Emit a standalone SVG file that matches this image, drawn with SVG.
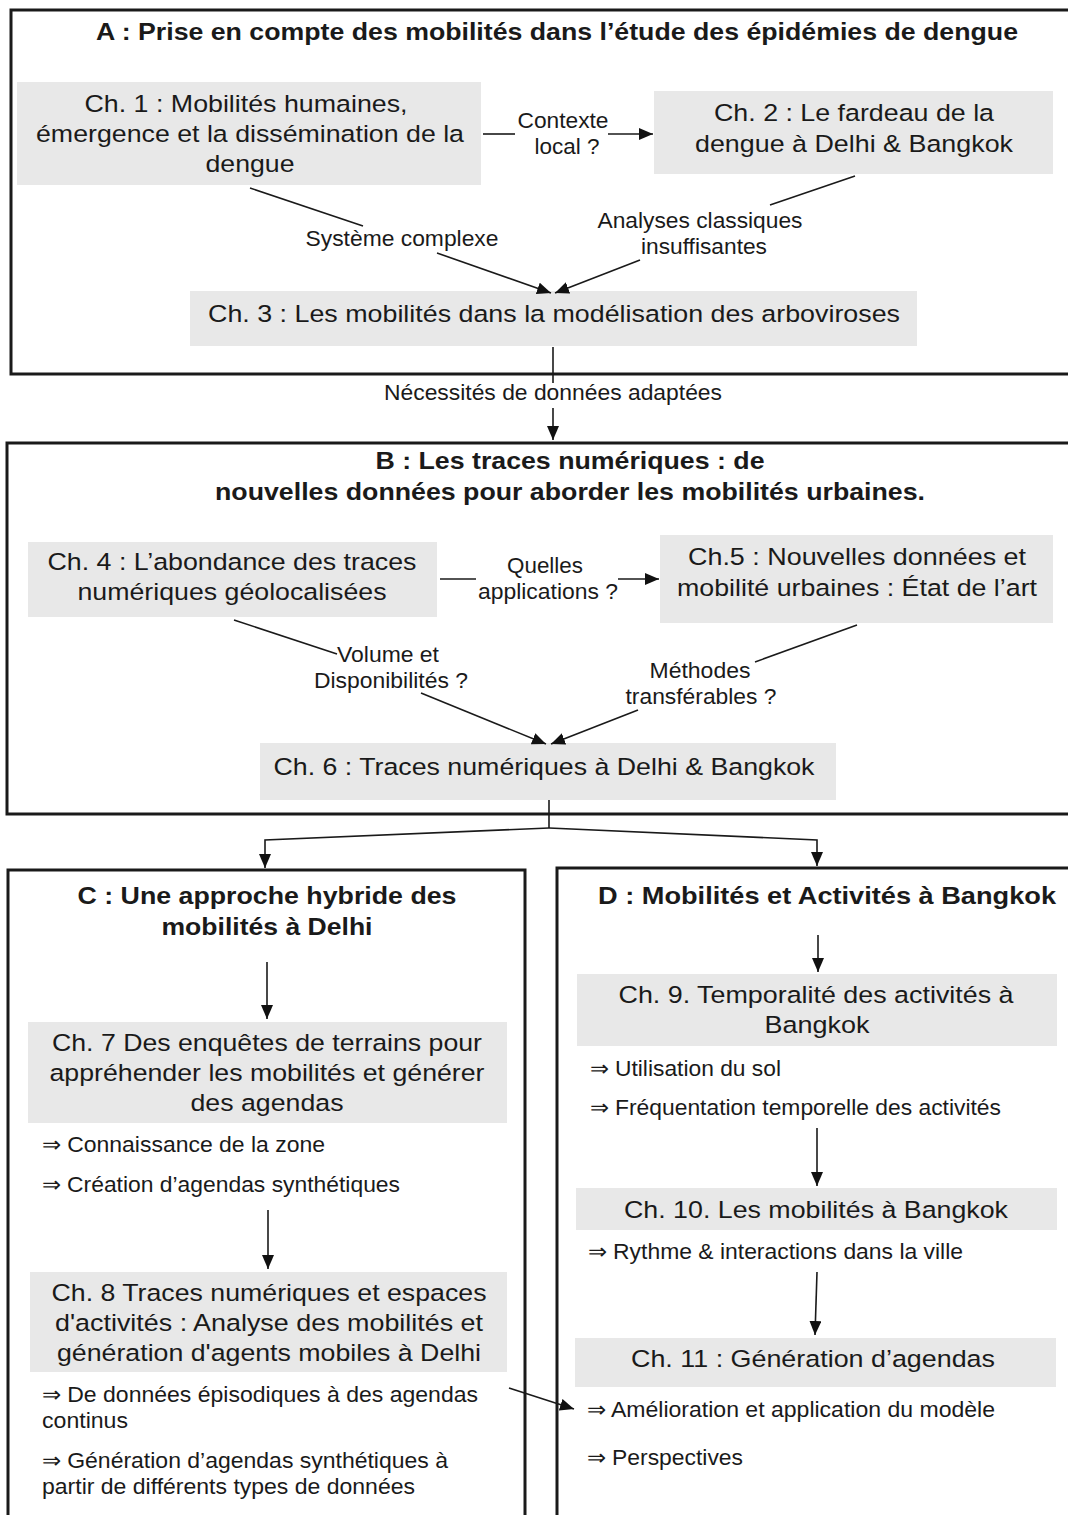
<svg xmlns="http://www.w3.org/2000/svg" width="1068" height="1515" viewBox="0 0 1068 1515">
<style>
text{font-family:"Liberation Sans",Arial,sans-serif;fill:#1a1a1a}
.t{font-size:24.5px;font-weight:bold;text-anchor:middle}
.n{font-size:24.5px;text-anchor:middle}
.l{font-size:22px;text-anchor:middle}
.b{font-size:22px}
.sec{fill:none;stroke:#1a1a1a;stroke-width:3}
.box{fill:#e8e8e8}
.c{fill:none;stroke:#1a1a1a;stroke-width:1.6}
</style>
<defs>
<marker id="ah" viewBox="0 0 14 12" refX="14" refY="6" markerWidth="14" markerHeight="12" markerUnits="userSpaceOnUse" orient="auto">
<path d="M0,0 L14,6 L0,12 z" fill="#111"/>
</marker>
</defs>
<rect width="1068" height="1515" fill="#fff"/>

<g id="sectionA">
<rect class="sec" x="11" y="10" width="1070" height="364"/>
<text class="t" x="557" y="40" textLength="922" lengthAdjust="spacingAndGlyphs">A : Prise en compte des mobilités dans l’étude des épidémies de dengue</text>
</g>
<g id="ch1">
<rect class="box" x="17" y="82" width="464" height="103"/>
<text class="n" x="246" y="112" textLength="323" lengthAdjust="spacingAndGlyphs">Ch. 1 : Mobilités humaines,</text>
<text class="n" x="250" y="142" textLength="428" lengthAdjust="spacingAndGlyphs">émergence et la dissémination de la</text>
<text class="n" x="250" y="172" textLength="89" lengthAdjust="spacingAndGlyphs">dengue</text>
</g>
<g id="ch2">
<rect class="box" x="654" y="91" width="399" height="83"/>
<text class="n" x="854" y="121" textLength="280" lengthAdjust="spacingAndGlyphs">Ch. 2 : Le fardeau de la</text>
<text class="n" x="854" y="152" textLength="318" lengthAdjust="spacingAndGlyphs">dengue à Delhi &amp; Bangkok</text>
</g>
<g id="ch3">
<rect class="box" x="190" y="291" width="727" height="55"/>
<text class="n" x="554" y="322" textLength="692" lengthAdjust="spacingAndGlyphs">Ch. 3 : Les mobilités dans la modélisation des arboviroses</text>
</g>

<g id="sectionB">
<rect class="sec" x="7" y="443" width="1070" height="371"/>
<text class="t" x="570" y="469" textLength="389" lengthAdjust="spacingAndGlyphs">B : Les traces numériques : de</text>
<text class="t" x="570" y="500" textLength="710" lengthAdjust="spacingAndGlyphs">nouvelles données pour aborder les mobilités urbaines.</text>
</g>
<g id="ch4">
<rect class="box" x="28" y="542" width="409" height="75"/>
<text class="n" x="232" y="570" textLength="369" lengthAdjust="spacingAndGlyphs">Ch. 4 : L’abondance des traces</text>
<text class="n" x="232" y="600" textLength="309" lengthAdjust="spacingAndGlyphs">numériques géolocalisées</text>
</g>
<g id="ch5">
<rect class="box" x="660" y="535" width="393" height="88"/>
<text class="n" x="857" y="565" textLength="338" lengthAdjust="spacingAndGlyphs">Ch.5 : Nouvelles données et</text>
<text class="n" x="857" y="596" textLength="360" lengthAdjust="spacingAndGlyphs">mobilité urbaines : État de l’art</text>
</g>
<g id="ch6">
<rect class="box" x="260" y="743" width="576" height="57"/>
<text class="n" x="544" y="775" textLength="541" lengthAdjust="spacingAndGlyphs">Ch. 6 : Traces numériques à Delhi &amp; Bangkok</text>
</g>

<g id="sectionC">
<rect class="sec" x="8" y="870" width="517" height="660"/>
<text class="t" x="267" y="904" textLength="379" lengthAdjust="spacingAndGlyphs">C : Une approche hybride des</text>
<text class="t" x="267" y="935" textLength="211" lengthAdjust="spacingAndGlyphs">mobilités à Delhi</text>
</g>
<g id="ch7">
<rect class="box" x="28" y="1022" width="479" height="101"/>
<text class="n" x="267" y="1051" textLength="430" lengthAdjust="spacingAndGlyphs">Ch. 7 Des enquêtes de terrains pour</text>
<text class="n" x="267" y="1081" textLength="435" lengthAdjust="spacingAndGlyphs">appréhender les mobilités et générer</text>
<text class="n" x="267" y="1111" textLength="153" lengthAdjust="spacingAndGlyphs">des agendas</text>
<text class="b" x="42" y="1152" textLength="283" lengthAdjust="spacingAndGlyphs">⇒ Connaissance de la zone</text>
<text class="b" x="42" y="1192" textLength="358" lengthAdjust="spacingAndGlyphs">⇒ Création d’agendas synthétiques</text>
</g>
<g id="ch8">
<rect class="box" x="30" y="1272" width="477" height="100"/>
<text class="n" x="269" y="1301" textLength="435" lengthAdjust="spacingAndGlyphs">Ch. 8 Traces numériques et espaces</text>
<text class="n" x="269" y="1331" textLength="428" lengthAdjust="spacingAndGlyphs">d'activités : Analyse des mobilités et</text>
<text class="n" x="269" y="1361" textLength="424" lengthAdjust="spacingAndGlyphs">génération d'agents mobiles à Delhi</text>
<text class="b" x="42" y="1402" textLength="436" lengthAdjust="spacingAndGlyphs">⇒ De données épisodiques à des agendas</text>
<text class="b" x="42" y="1428" textLength="86" lengthAdjust="spacingAndGlyphs">continus</text>
<text class="b" x="42" y="1468" textLength="406" lengthAdjust="spacingAndGlyphs">⇒ Génération d’agendas synthétiques à</text>
<text class="b" x="42" y="1494" textLength="373" lengthAdjust="spacingAndGlyphs">partir de différents types de données</text>
</g>

<g id="sectionD">
<rect class="sec" x="557" y="868" width="520" height="660"/>
<text class="t" x="827" y="904" textLength="458" lengthAdjust="spacingAndGlyphs">D :  Mobilités et Activités à Bangkok</text>
</g>
<g id="ch9">
<rect class="box" x="577" y="974" width="480" height="72"/>
<text class="n" x="816" y="1003" textLength="395" lengthAdjust="spacingAndGlyphs">Ch. 9. Temporalité des activités à</text>
<text class="n" x="817" y="1033" textLength="105" lengthAdjust="spacingAndGlyphs">Bangkok</text>
<text class="b" x="590" y="1076" textLength="191" lengthAdjust="spacingAndGlyphs">⇒ Utilisation du sol</text>
<text class="b" x="590" y="1115" textLength="411" lengthAdjust="spacingAndGlyphs">⇒ Fréquentation temporelle des activités</text>
</g>
<g id="ch10">
<rect class="box" x="576" y="1188" width="481" height="42"/>
<text class="n" x="816" y="1218" textLength="384" lengthAdjust="spacingAndGlyphs">Ch. 10. Les mobilités à Bangkok</text>
<text class="b" x="588" y="1259" textLength="375" lengthAdjust="spacingAndGlyphs">⇒ Rythme &amp; interactions dans la ville</text>
</g>
<g id="ch11">
<rect class="box" x="575" y="1338" width="481" height="49"/>
<text class="n" x="813" y="1367" textLength="364" lengthAdjust="spacingAndGlyphs">Ch. 11 : Génération d’agendas</text>
<text class="b" x="587" y="1417" textLength="408" lengthAdjust="spacingAndGlyphs">⇒ Amélioration et application du modèle</text>
<text class="b" x="587" y="1465" textLength="156" lengthAdjust="spacingAndGlyphs">⇒ Perspectives</text>
</g>

<g id="connectors">
<path class="c" d="M483,134 H515"/>
<path class="c" d="M608,134 H653" marker-end="url(#ah)"/>
<text class="l" x="563" y="128" textLength="91" lengthAdjust="spacingAndGlyphs">Contexte</text>
<text class="l" x="567" y="154" textLength="65" lengthAdjust="spacingAndGlyphs">local ?</text>

<path class="c" d="M250,188 L363,226"/>
<text class="l" x="402" y="246" textLength="193" lengthAdjust="spacingAndGlyphs">Système complexe</text>
<path class="c" d="M437,253 L551,293" marker-end="url(#ah)"/>
<path class="c" d="M855,176 L770,205"/>
<text class="l" x="700" y="228" textLength="205" lengthAdjust="spacingAndGlyphs">Analyses classiques</text>
<text class="l" x="704" y="254" textLength="126" lengthAdjust="spacingAndGlyphs">insuffisantes</text>
<path class="c" d="M640,260 L555,293" marker-end="url(#ah)"/>

<path class="c" d="M553,347 V383"/>
<text class="l" x="553" y="400" textLength="338" lengthAdjust="spacingAndGlyphs">Nécessités de données adaptées</text>
<path class="c" d="M553,408 V440" marker-end="url(#ah)"/>

<path class="c" d="M440,579 H476"/>
<path class="c" d="M618,579 H659" marker-end="url(#ah)"/>
<text class="l" x="545" y="573" textLength="76" lengthAdjust="spacingAndGlyphs">Quelles</text>
<text class="l" x="548" y="599" textLength="140" lengthAdjust="spacingAndGlyphs">applications ?</text>

<path class="c" d="M234,620 L337,654"/>
<text class="l" x="388" y="662" textLength="102" lengthAdjust="spacingAndGlyphs">Volume et</text>
<text class="l" x="391" y="688" textLength="154" lengthAdjust="spacingAndGlyphs">Disponibilités ?</text>
<path class="c" d="M421,693 L546,744" marker-end="url(#ah)"/>
<path class="c" d="M857,625 L755,662"/>
<text class="l" x="700" y="678" textLength="101" lengthAdjust="spacingAndGlyphs">Méthodes</text>
<text class="l" x="701" y="704" textLength="151" lengthAdjust="spacingAndGlyphs">transférables ?</text>
<path class="c" d="M638,710 L551,744" marker-end="url(#ah)"/>

<path class="c" d="M549,800 V828"/>
<path class="c" d="M549,828 L265,840 V868" marker-end="url(#ah)"/>
<path class="c" d="M549,828 L817,840 V866" marker-end="url(#ah)"/>

<path class="c" d="M267,962 V1019" marker-end="url(#ah)"/>
<path class="c" d="M268,1210 V1269" marker-end="url(#ah)"/>
<path class="c" d="M509,1388 L574,1409" marker-end="url(#ah)"/>

<path class="c" d="M818,935 V972" marker-end="url(#ah)"/>
<path class="c" d="M817,1128 V1186" marker-end="url(#ah)"/>
<path class="c" d="M817,1272 L815,1335" marker-end="url(#ah)"/>
</g>
</svg>
